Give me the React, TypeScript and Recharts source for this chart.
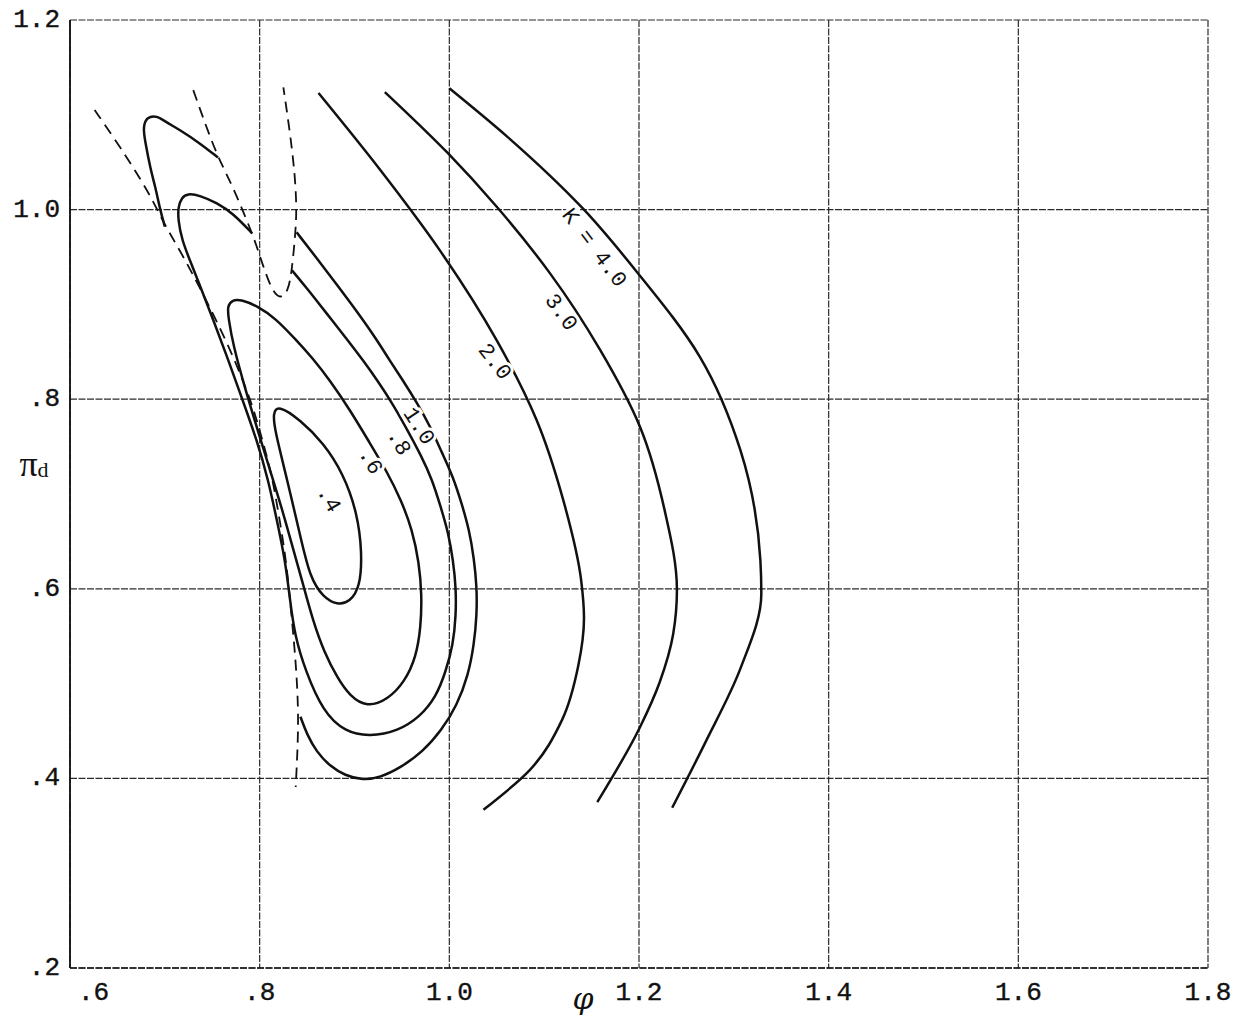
import React from 'react'
import { LineChart, Line, XAxis, YAxis, CartesianGrid, ReferenceDot, Label } from 'recharts'

// phi (x) / pi_d (y) pairs
const k40 = [[1.000, 1.128], [1.061, 1.077], [1.140, 1.002], [1.198, 0.934], [1.264, 0.845], [1.307, 0.746], [1.328, 0.630], [1.329, 0.595], [1.307, 0.516], [1.270, 0.438], [1.235, 0.369]]
const k30 = [[0.932, 1.124], [0.998, 1.060], [1.050, 1.003], [1.106, 0.933], [1.159, 0.852], [1.201, 0.771], [1.227, 0.683], [1.240, 0.599], [1.236, 0.552], [1.222, 0.502], [1.201, 0.454], [1.156, 0.375]]
const k20 = [[0.862, 1.123], [0.927, 1.042], [0.990, 0.957], [1.050, 0.862], [1.092, 0.778], [1.120, 0.694], [1.139, 0.609], [1.142, 0.569], [1.136, 0.519], [1.119, 0.462], [1.085, 0.409], [1.036, 0.367]]
const k10top = [[0.756, 1.055], [0.737, 1.070], [0.716, 1.084], [0.700, 1.093], [0.692, 1.099], [0.681, 1.098], [0.677, 1.087], [0.679, 1.073], [0.685, 1.042], [0.690, 1.024], [0.695, 1.000], [0.700, 0.982]]
const k10 = [[0.839, 0.976], [0.860, 0.949], [0.882, 0.920], [0.903, 0.892], [0.924, 0.862], [0.937, 0.841], [0.951, 0.820], [0.966, 0.796], [0.980, 0.771], [0.992, 0.744], [1.004, 0.718], [1.013, 0.690], [1.021, 0.662], [1.026, 0.632], [1.029, 0.602], [1.029, 0.572], [1.026, 0.541], [1.020, 0.509], [1.008, 0.477], [0.992, 0.451], [0.972, 0.428], [0.948, 0.411], [0.927, 0.401], [0.909, 0.398], [0.890, 0.403], [0.874, 0.413], [0.860, 0.428], [0.850, 0.446], [0.843, 0.465]]
const k08 = [[0.792, 0.975], [0.772, 0.996], [0.755, 1.007], [0.737, 1.015], [0.724, 1.017], [0.718, 1.013], [0.714, 1.003], [0.714, 0.989], [0.718, 0.968], [0.727, 0.945], [0.737, 0.920], [0.751, 0.884], [0.767, 0.841], [0.782, 0.799], [0.797, 0.757], [0.809, 0.715], [0.818, 0.673], [0.827, 0.630], [0.832, 0.588], [0.837, 0.551], [0.848, 0.514], [0.867, 0.470], [0.890, 0.449], [0.916, 0.444], [0.946, 0.450], [0.969, 0.465], [0.986, 0.486], [0.996, 0.512], [1.004, 0.541], [1.007, 0.572], [1.007, 0.601], [1.004, 0.630], [0.999, 0.659], [0.991, 0.686], [0.982, 0.715], [0.970, 0.741], [0.956, 0.767], [0.941, 0.794], [0.924, 0.820], [0.909, 0.841], [0.893, 0.862], [0.878, 0.881], [0.864, 0.899], [0.849, 0.918], [0.834, 0.936]]
// closed loops (drawn with a closed curve, so the first point is not repeated)
const k06 = [[0.839, 0.862], [0.816, 0.886], [0.798, 0.898], [0.781, 0.905], [0.771, 0.905], [0.766, 0.898], [0.767, 0.886], [0.772, 0.857], [0.785, 0.810], [0.798, 0.767], [0.811, 0.725], [0.824, 0.683], [0.835, 0.643], [0.846, 0.604], [0.856, 0.567], [0.868, 0.533], [0.882, 0.506], [0.895, 0.487], [0.913, 0.475], [0.935, 0.483], [0.953, 0.502], [0.965, 0.528], [0.970, 0.560], [0.971, 0.594], [0.968, 0.628], [0.961, 0.662], [0.949, 0.694], [0.934, 0.724], [0.916, 0.754], [0.895, 0.789], [0.874, 0.820], [0.856, 0.843]]
const k04 = [[0.819, 0.794], [0.843, 0.778], [0.867, 0.754], [0.888, 0.722], [0.903, 0.680], [0.908, 0.638], [0.906, 0.602], [0.895, 0.586], [0.882, 0.583], [0.867, 0.591], [0.853, 0.612], [0.843, 0.655], [0.829, 0.715], [0.816, 0.767], [0.814, 0.785]]

const limitLeft = [[0.626, 1.105], [0.653, 1.066], [0.684, 1.017], [0.698, 0.987], [0.716, 0.957], [0.740, 0.912], [0.766, 0.859], [0.779, 0.828], [0.793, 0.792], [0.802, 0.760], [0.813, 0.720], [0.821, 0.673], [0.828, 0.630], [0.833, 0.578], [0.838, 0.525], [0.841, 0.472], [0.840, 0.430], [0.838, 0.391]]
const limitTop = [[0.730, 1.126], [0.742, 1.092], [0.756, 1.055], [0.772, 1.024], [0.792, 0.975], [0.797, 0.961], [0.811, 0.918], [0.821, 0.905], [0.830, 0.913], [0.834, 0.936], [0.838, 0.978], [0.839, 1.003], [0.837, 1.039], [0.832, 1.081], [0.825, 1.129]]

const xTicks = [0.6, 0.8, 1.0, 1.2, 1.4, 1.6, 1.8]
const xTickLabels = ['.6', '.8', '1.0', '1.2', '1.4', '1.6', '1.8']
const yTicks = [0.2, 0.4, 0.6, 0.8, 1.0, 1.2]
const yTickLabels = ['.2', '.4', '.6', '.8', '1.0', '1.2']

const curveLabels = [
  { text: 'K = 4.0', phi: 1.152, pd: 0.959, tilt: 53 },
  { text: '3.0', phi: 1.117, pd: 0.891, tilt: 54 },
  { text: '2.0', phi: 1.047, pd: 0.839, tilt: 52 },
  { text: '1.0', phi: 0.967, pd: 0.771, tilt: 57 },
  { text: '.8', phi: 0.946, pd: 0.754, tilt: 60 },
  { text: '.6', phi: 0.916, pd: 0.734, tilt: 60 },
  { text: '.4', phi: 0.872, pd: 0.694, tilt: 60 },
]

// outer contours run top to bottom, so they are smooth as x(y)
const outerCurves = [k40, k30, k20]
const innerCurves = [k10top, k10, k08]
const closedCurves = [k06, k04]
const dashedCurves = [limitLeft, limitTop]

const toRows = (pts: number[][]) => pts.map(([phi, pd]) => ({ phi, pd }))

const TICK_FONT = '"Liberation Mono", "DejaVu Sans Mono", monospace'
const INK = '#111'
const LW = 2.5

const XTick = ({ x, y, payload }: any) => {
  const i = xTicks.indexOf(payload.value)
  const first = i === 0
  return (
    <text x={first ? x + 8 : x} y={y + 17} textAnchor={first ? 'start' : 'middle'} dominantBaseline="central"
      fontFamily={TICK_FONT} fontSize={26} fill={INK} stroke={INK} strokeWidth={0.4}>
      {xTickLabels[i]}
    </text>
  )
}

const YTick = ({ x, y, payload }: any) => {
  const i = yTicks.indexOf(payload.value)
  return (
    <text x={x} y={y} textAnchor="end" dominantBaseline="central"
      fontFamily={TICK_FONT} fontSize={26} fill={INK} stroke={INK} strokeWidth={0.4}>
      {yTickLabels[i]}
    </text>
  )
}

const CurveLabel = ({ viewBox, text, tilt }: any) => {
  const { x, y } = viewBox
  return (
    <text x={x} y={y} transform={`rotate(${tilt} ${x} ${y})`} textAnchor="middle" dominantBaseline="central"
      fontFamily={TICK_FONT} fontSize={22} fill={INK} stroke="#fff" strokeWidth={6} paintOrder="stroke">
      {text}
    </text>
  )
}

const PiLabel = ({ viewBox }: any) => {
  const cx = viewBox.x + 34
  const cy = viewBox.y + viewBox.height / 2 - 30
  return (
    <text x={cx} y={cy} textAnchor="middle" dominantBaseline="central" fontFamily='"Liberation Serif", serif' fontSize={36} fill={INK}>
      π<tspan fontSize={22} dy={5}>d</tspan>
    </text>
  )
}

const PhiLabel = ({ viewBox }: any) => {
  const cx = viewBox.x + viewBox.width / 2 - 56
  return (
    <text x={cx} y={viewBox.y + 30} textAnchor="middle" dominantBaseline="central" fontFamily='"DejaVu Serif", serif'
      fontStyle="italic" fontSize={30} fill={INK}>
      φ
    </text>
  )
}

export default function App() {
  return (
    <div style={{ position: 'absolute', left: 0, top: 0, background: '#fff' }}>
      <LineChart width={1246} height={1026} margin={{ top: 20, right: 38, bottom: 0, left: 0 }}>
        <CartesianGrid stroke="#2a2a2a" strokeWidth={1.2} strokeDasharray="7 1.5" />
        <XAxis type="number" dataKey="phi" domain={[0.6, 1.8]} ticks={xTicks} height={58}
          axisLine={{ stroke: INK, strokeWidth: 1.3, strokeDasharray: '7 1.5' }} tickLine={false} tickMargin={2}
          tick={<XTick />} interval={0} allowDataOverflow>
          <Label content={<PhiLabel />} />
        </XAxis>
        <YAxis type="number" dataKey="pd" domain={[0.2, 1.2]} ticks={yTicks} width={70}
          axisLine={{ stroke: INK, strokeWidth: 1.8 }} tickLine={false} tickMargin={4}
          tick={<YTick />} interval={0} allowDataOverflow>
          <Label content={<PiLabel />} />
        </YAxis>
        {dashedCurves.map((c, i) => (
          <Line key={'d' + i} data={toRows(c)} dataKey="pd" type="basis" stroke={INK} strokeWidth={1.8}
            strokeDasharray="11 7" dot={false} activeDot={false} isAnimationActive={false} />
        ))}
        {outerCurves.map((c, i) => (
          <Line key={'o' + i} data={toRows(c)} dataKey="pd" type="monotoneY" stroke={INK} strokeWidth={LW}
            dot={false} activeDot={false} isAnimationActive={false} />
        ))}
        {innerCurves.map((c, i) => (
          <Line key={'s' + i} data={toRows(c)} dataKey="pd" type="basis" stroke={INK} strokeWidth={LW}
            dot={false} activeDot={false} isAnimationActive={false} />
        ))}
        {closedCurves.map((c, i) => (
          <Line key={'c' + i} data={toRows(c)} dataKey="pd" type="basisClosed" stroke={INK} strokeWidth={LW}
            dot={false} activeDot={false} isAnimationActive={false} />
        ))}
        {curveLabels.map((l) => (
          <ReferenceDot key={l.text} x={l.phi} y={l.pd} r={0} fill="none" stroke="none"
            label={<CurveLabel text={l.text} tilt={l.tilt} />} />
        ))}
      </LineChart>
    </div>
  )
}
